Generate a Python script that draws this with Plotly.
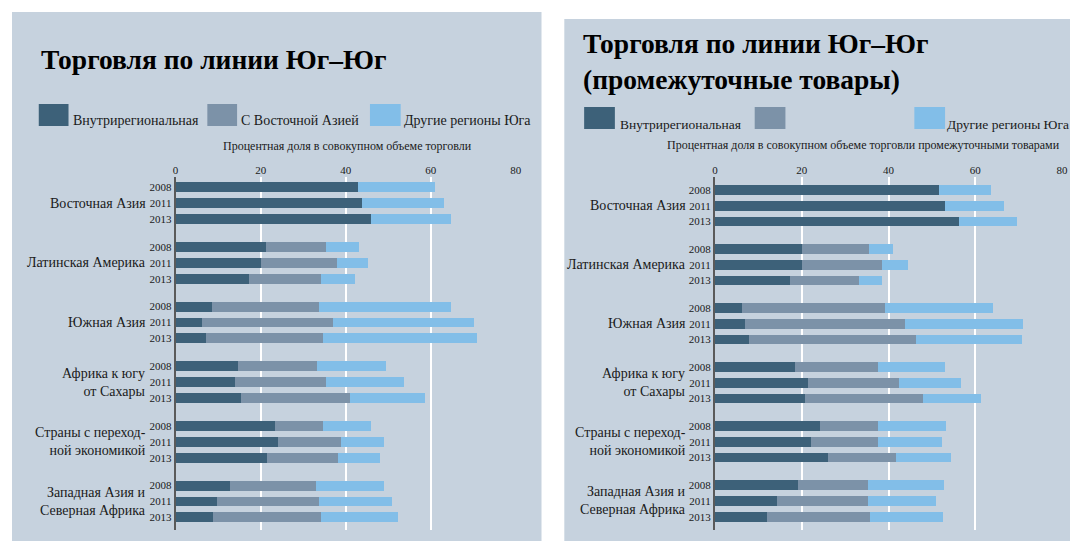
import plotly.graph_objects as go

# ---------------- data ----------------
regions = ["Восточная Азия", "Латинская Америка", "Южная Азия",
           "Африка к югу<br>от Сахары", "Страны с переход-<br>ной экономикой",
           "Западная Азия и<br>Северная Африка"]
years = ["2008", "2011", "2013"]
series_names = ["Внутрирегиональная", "С Восточной Азией", "Другие регионы Юга"]
x_ticks = [0, 20, 40, 60, 80]

# Left panel: share in total trade (per region: 2008, 2011, 2013)
intra_total = [42.8, 43.7, 45.8, 21.1, 19.9, 17.2, 8.5, 6.1, 7.1,
               14.6, 13.8, 15.4, 23.3, 23.9, 21.4, 12.6, 9.6, 8.6]
eastasia_total = [0, 0, 0, 14.1, 18.0, 17.0, 25.2, 30.8, 27.5,
                  18.5, 21.4, 25.5, 11.2, 14.9, 16.6, 20.3, 24.1, 25.6]
other_total = [18.1, 19.3, 18.9, 7.9, 7.3, 7.8, 30.9, 33.3, 36.3,
               16.3, 18.4, 17.6, 11.4, 10.1, 10.0, 16.0, 17.0, 18.0]

# Right panel: share in trade of intermediate goods
intra_int = [51.7, 53.0, 56.3, 20.1, 20.1, 17.2, 6.3, 6.8, 7.9,
             18.4, 21.5, 20.8, 24.3, 22.2, 26.0, 19.1, 14.4, 11.9]
eastasia_int = [0, 0, 0, 15.3, 18.4, 16.0, 33.0, 36.9, 38.4,
                19.2, 21.0, 27.1, 13.2, 15.3, 15.8, 16.1, 20.8, 23.8]
other_int = [11.9, 13.6, 13.2, 5.7, 6.1, 5.2, 24.8, 27.3, 24.5,
             15.4, 14.3, 13.4, 15.8, 14.9, 12.6, 17.7, 15.8, 16.8]

# ---------------- style ----------------
W, H = 1078, 541          # browser window
OFF = 8                   # default body margin of the html page
FW, FH = W - OFF, H - OFF  # figure size
BG = "#c6d2de"
COLORS = ["#3d6179", "#7c92a8", "#82bee8"]
SERIF = "Liberation Serif"
TXT = "#1a1a1a"

GROUP_STEP = 3.76
pos = [g * GROUP_STEP + i for g in range(len(regions)) for i in range(len(years))]
tick_years = [years[i] for g in range(len(regions)) for i in range(len(years))]
group_mid = [g * GROUP_STEP + 1 for g in range(len(regions))]


def fx(p):
    return (p - OFF) / FW


def fy(p):
    return 1 - (p - OFF) / FH


fig = go.Figure()

for vals, name, col in zip([intra_total, eastasia_total, other_total], series_names, COLORS):
    fig.add_trace(go.Bar(x=vals, y=pos, orientation="h", name=name, width=0.62,
                         marker=dict(color=col, line=dict(width=0)),
                         xaxis="x", yaxis="y", showlegend=False))
for vals, name, col in zip([intra_int, eastasia_int, other_int], series_names, COLORS):
    fig.add_trace(go.Bar(x=vals, y=pos, orientation="h", name=name, width=0.62,
                         marker=dict(color=col, line=dict(width=0)),
                         xaxis="x2", yaxis="y2", showlegend=False))

xcommon = dict(range=[0, 80], tickvals=x_ticks, side="top", showgrid=True,
               gridcolor="white", gridwidth=1.5, zeroline=False, showline=False,
               ticks="", tickfont=dict(family=SERIF, size=11, color=TXT), fixedrange=True)
ycommon = dict(tickvals=pos, ticktext=tick_years, showgrid=False, zeroline=False,
               showline=True, linecolor="#5a5a5a", linewidth=2, ticks="",
               tickfont=dict(family=SERIF, size=11, color=TXT), fixedrange=True)

fig.update_layout(
    width=FW, height=FH,
    margin=dict(l=0, r=0, t=0, b=0),
    paper_bgcolor="white", plot_bgcolor="rgba(0,0,0,0)",
    barmode="stack", bargap=0,
    xaxis=dict(domain=[fx(174), fx(517)], anchor="y", **xcommon),
    yaxis=dict(domain=[fy(530), fy(177)], anchor="x", range=[21.6, -0.65], **ycommon),
    xaxis2=dict(domain=[fx(718), fx(1068)], anchor="y2", **xcommon),
    yaxis2=dict(domain=[fy(530), fy(177)], anchor="x2", range=[21.65, -0.83], **ycommon),
)

shapes = [
    dict(type="rect", xref="paper", yref="paper", x0=fx(9), x1=fx(543), y0=0, y1=fy(12),
         fillcolor=BG, line=dict(width=0), layer="below"),
    dict(type="rect", xref="paper", yref="paper", x0=fx(566), x1=1, y0=0, y1=fy(19),
         fillcolor=BG, line=dict(width=0), layer="below"),
]

# custom legend squares
legend_left = [(36, 66, 104, 126, 69), (206, 236, 104, 126, 238), (370, 401, 104, 126, 402)]
legend_right = [(586, 617, 107, 129, 620), (758, 789, 107, 129, None), (919, 950, 107, 129, 950)]
annotations = []
for items, fsize in [(legend_left, 14), (legend_right, 13.5)]:
    for (x0, x1, y0, y1, lx), name, col in zip(items, series_names, COLORS):
        shapes.append(dict(type="rect", xref="paper", yref="paper", x0=fx(x0), x1=fx(x1),
                           y0=fy(y1), y1=fy(y0), fillcolor=col, line=dict(width=0)))
        if lx is not None:
            annotations.append(dict(xref="paper", yref="paper", x=fx(lx), y=fy(y1 - 5),
                                    text=name, showarrow=False, xanchor="left", yanchor="middle",
                                    font=dict(family=SERIF, size=fsize, color=TXT)))

# titles
annotations.append(dict(xref="paper", yref="paper", x=fx(36), y=fy(59.5),
                        text="<b>Торговля по линии Юг–Юг</b>", showarrow=False,
                        xanchor="left", yanchor="middle",
                        font=dict(family=SERIF, size=27.5, color="black")))
annotations.append(dict(xref="paper", yref="paper", x=fx(583), y=fy(62),
                        text="<b>Торговля по линии Юг–Юг<br>(промежуточные товары)</b>",
                        showarrow=False, xanchor="left", yanchor="middle", align="left",
                        font=dict(family=SERIF, size=27.5, color="black")))

# axis titles
annotations.append(dict(xref="paper", yref="paper", x=fx(347), y=fy(145.5),
                        text="Процентная доля в совокупном объеме торговли",
                        showarrow=False, xanchor="center", yanchor="middle",
                        font=dict(family=SERIF, size=12, color=TXT)))
annotations.append(dict(xref="paper", yref="paper", x=fx(868), y=fy(145),
                        text="Процентная доля в совокупном объеме торговли промежуточными товарами",
                        showarrow=False, xanchor="center", yanchor="middle",
                        font=dict(family=SERIF, size=12, color=TXT)))

# region labels
for yref, xr in [("y", 146), ("y2", 691)]:
    for name, ym in zip(regions, group_mid):
        annotations.append(dict(xref="paper", yref=yref, x=fx(xr), y=ym, text=name,
                                showarrow=False, xanchor="right", yanchor="middle", align="right",
                                font=dict(family=SERIF, size=14, color=TXT)))

fig.update_layout(shapes=shapes, annotations=annotations)
fig.write_html("out.html")
